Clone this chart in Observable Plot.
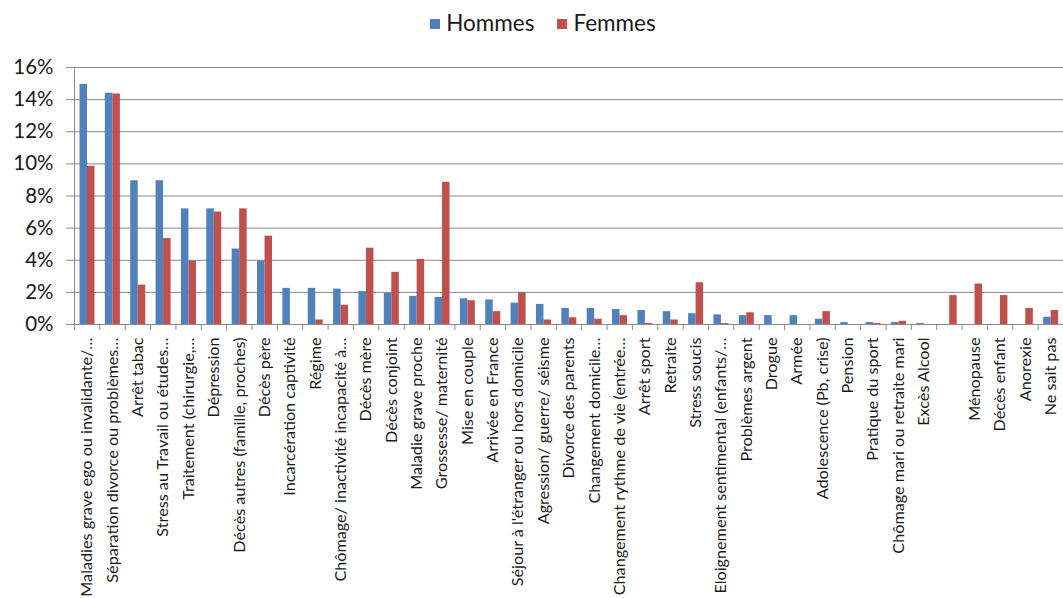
<!DOCTYPE html>
<html>
<head>
<meta charset="utf-8">
<script src="https://cdn.jsdelivr.net/npm/d3@7"></script>
<script src="https://cdn.jsdelivr.net/npm/@observablehq/plot@0.6"></script>
<style>
  body { margin: 0; background: #fff; font-family: Lato, "Open Sans", sans-serif; }
  #legend { box-sizing: border-box; height: 42px; padding: 2px 0 0 23px; display: flex; justify-content: center; align-items: center; font-size: 22.5px; color: #1a1a1a; }
  #legend .item { display: inline-flex; align-items: center; margin: 0 11.5px; }
  #legend .sw { width: 10px; height: 10px; margin-right: 6px; margin-top: 3px; }
  #chart svg { display: block; }
</style>
</head>
<body>
<div id="legend"></div>
<div id="chart"></div>
<script>
const categories = [
  "Maladies grave ego ou invalidante/…",
  "Séparation divorce ou problèmes…",
  "Arrêt tabac",
  "Stress au Travail ou études…",
  "Traitement (chirurgie,…",
  "Dépression",
  "Décès autres (famille, proches)",
  "Décès père",
  "Incarcération captivité",
  "Régime",
  "Chômage/ inactivité incapacité à…",
  "Décès mère",
  "Décès conjoint",
  "Maladie grave proche",
  "Grossesse/ maternité",
  "Mise en couple",
  "Arrivée en France",
  "Séjour à l'étranger ou hors domicile",
  "Agression/ guerre/ séisme",
  "Divorce des parents",
  "Changement domicile…",
  "Changement rythme de vie (entrée…",
  "Arrêt sport",
  "Retraite",
  "Stress soucis",
  "Eloignement sentimental (enfants/…",
  "Problèmes argent",
  "Drogue",
  "Armée",
  "Adolescence (Pb, crise)",
  "Pension",
  "Pratique du sport",
  "Chômage mari ou retraite mari",
  "Excès Alcool",
  "",
  "Ménopause",
  "Décès enfant",
  "Anorexie",
  "Ne sait pas"
];
// percentages
const hommes = [14.95, 14.4, 8.95, 8.95, 7.2, 7.2, 4.7, 3.95, 2.25, 2.25, 2.2, 2.05, 1.95, 1.75, 1.68, 1.6, 1.53, 1.33, 1.25, 1.0, 1.0, 0.93, 0.87, 0.8, 0.67, 0.6, 0.55, 0.55, 0.55, 0.33, 0.12, 0.12, 0.12, 0.06, 0, 0, 0, 0, 0.45];
const femmes = [9.85, 14.35, 2.45, 5.35, 3.95, 7.0, 7.2, 5.5, 0, 0.28, 1.2, 4.75, 3.25, 4.05, 8.85, 1.48, 0.8, 1.98, 0.28, 0.42, 0.33, 0.55, 0.06, 0.28, 2.6, 0.06, 0.73, 0, 0, 0.8, 0, 0.06, 0.2, 0, 1.8, 2.52, 1.8, 1.0, 0.87];
const seriesNames = ["Hommes", "Femmes"];
const seriesColors = ["#4F81BD", "#C0504D"];
const yTicks = [0, 2, 4, 6, 8, 10, 12, 14, 16];

const rowsH = categories.map((c, i) => ({cat: c, value: hommes[i] / 100}));
const rowsF = categories.map((c, i) => ({cat: c, value: femmes[i] / 100}));
const ticks = yTicks.map(t => t / 100);

const W = 1063, H = 556, mL = 74, mR = 0, mT = 25, mB = 274;
const step = (W - mL - mR) / categories.length;
const gray = "#8a8a8a";
const font = "Lato, 'Open Sans', sans-serif";

const chart = Plot.plot({
  width: W, height: H,
  marginLeft: mL, marginRight: mR, marginTop: mT, marginBottom: mB,
  style: {fontFamily: font, color: "#1a1a1a", background: "#fff"},
  x: {domain: categories, padding: 0, round: false, label: null},
  y: {domain: [0, 0.16], label: null},
  marks: [
    Plot.gridY(ticks, {stroke: gray, strokeOpacity: 1, strokeWidth: 1}),
    Plot.barY(rowsH, {x: "cat", y: "value", fill: seriesColors[0], insetLeft: 5.5, insetRight: step - 13}),
    Plot.barY(rowsF, {x: "cat", y: "value", fill: seriesColors[1], insetLeft: 13, insetRight: step - 20.5}),
    Plot.ruleY([0], {stroke: gray}),
    Plot.ruleX([categories[0]], {y1: 0, y2: 0.16, dx: -step / 2, stroke: gray}),
    Plot.axisY({ticks, tickFormat: d3.format(".0%"), tickSize: 8, tickPadding: 13, fontSize: 20.5, stroke: gray, label: null}),
    Plot.axisX({tickSize: 6, tickFormat: () => "", dx: -step / 2, stroke: gray, label: null}),
    Plot.axisX({tickSize: 0, tickRotate: -90, tickPadding: 13, fontSize: 16.2, label: null})
  ]
});
document.getElementById("chart").appendChild(chart);

const legendDiv = document.getElementById("legend");
seriesNames.forEach((name, i) => {
  const item = document.createElement("span");
  item.className = "item";
  const sw = document.createElement("span");
  sw.className = "sw";
  sw.style.background = seriesColors[i];
  item.appendChild(sw);
  item.appendChild(document.createTextNode(name));
  legendDiv.appendChild(item);
});
</script>
</body>
</html>
